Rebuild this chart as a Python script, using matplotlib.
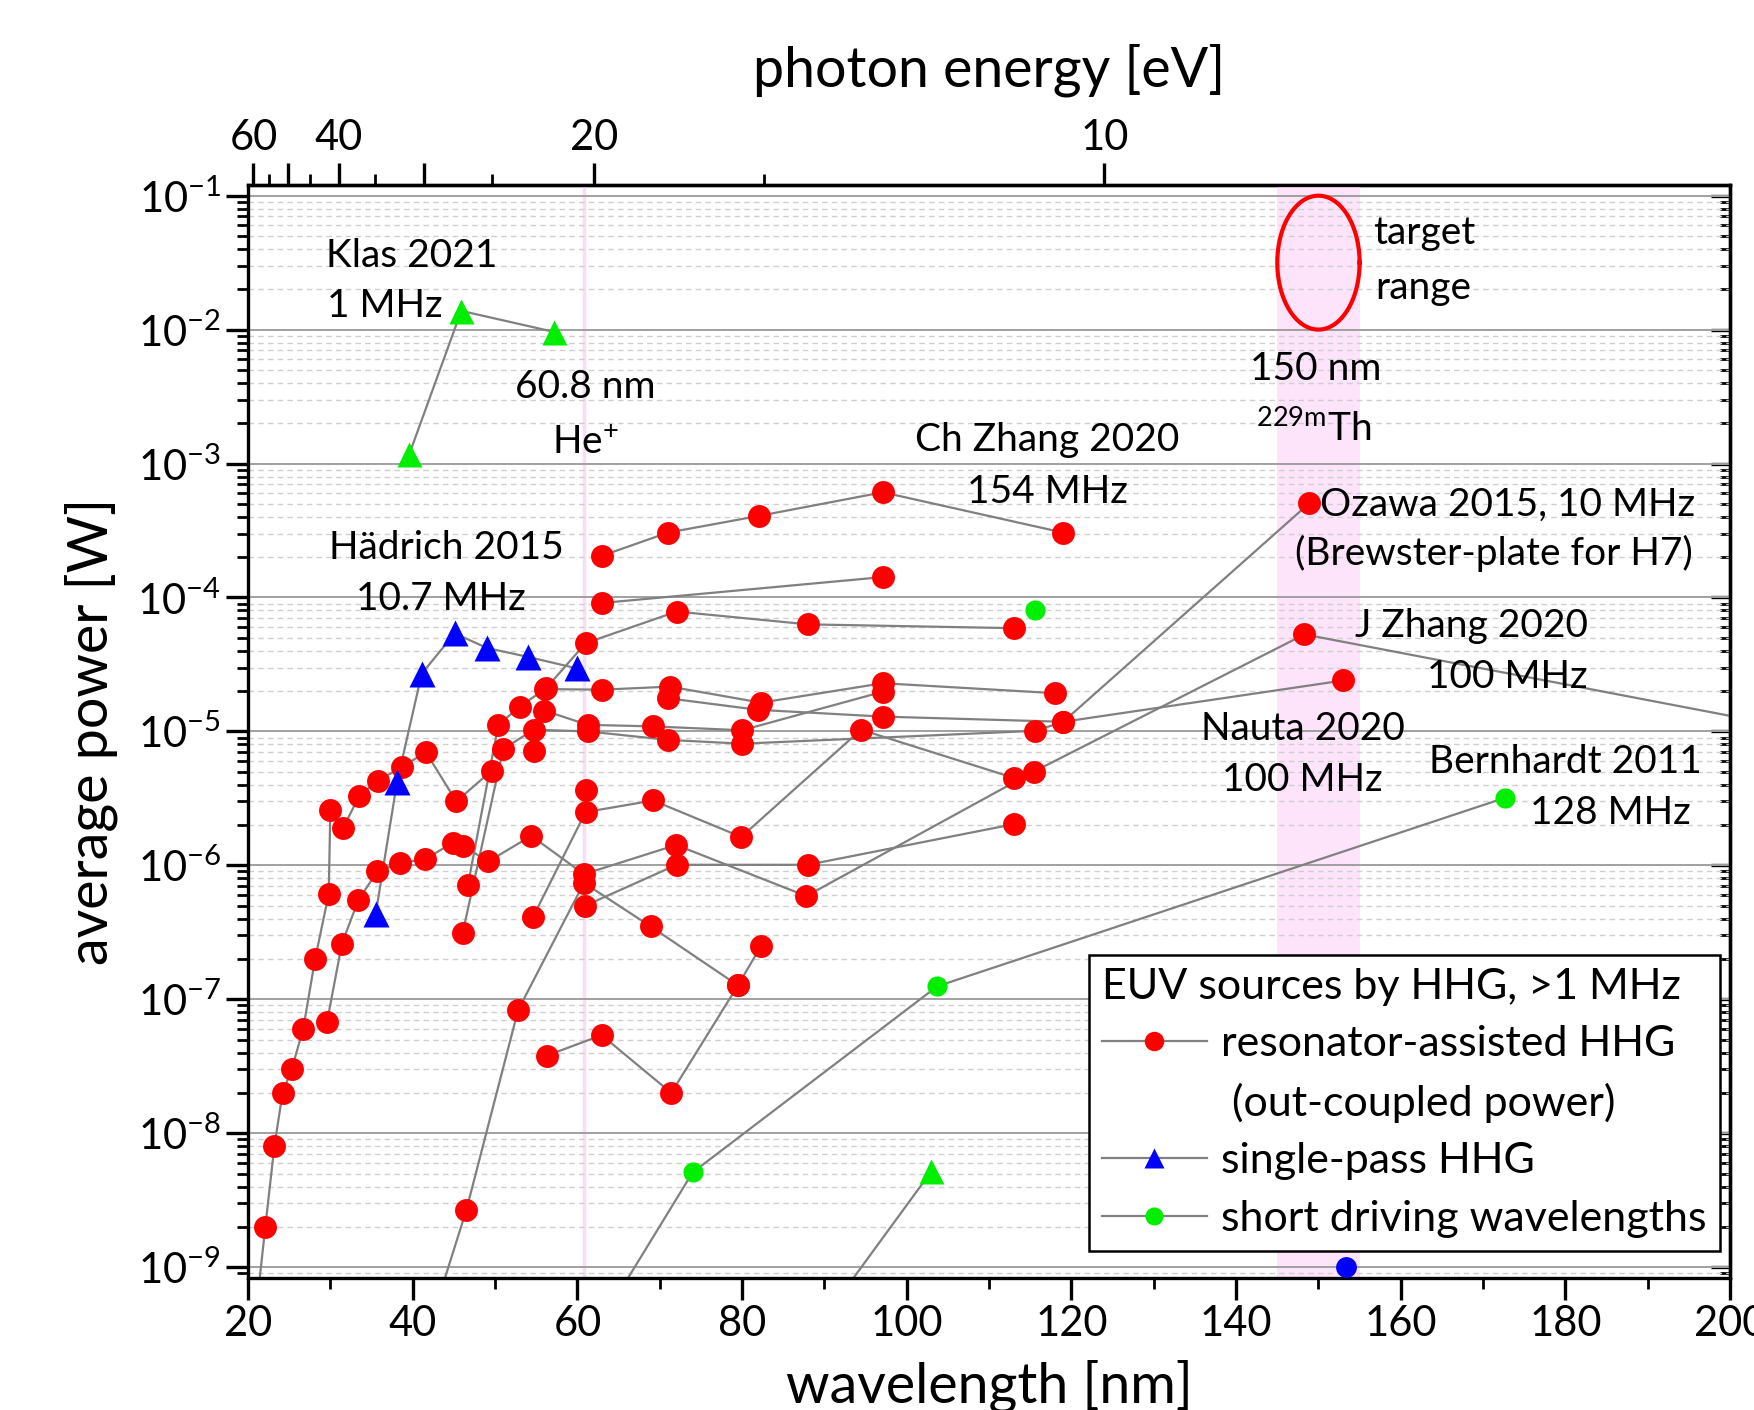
import numpy as np
import matplotlib
matplotlib.use('Agg')
import matplotlib.pyplot as plt
from matplotlib.lines import Line2D
from matplotlib.ticker import LogLocator, MultipleLocator, FixedLocator, NullFormatter

plt.rcParams['font.family'] = ['Lato', 'DejaVu Sans']
plt.rcParams['mathtext.fontset'] = 'custom'
plt.rcParams['mathtext.rm'] = 'Lato'
plt.rcParams['mathtext.it'] = 'Lato:italic'
plt.rcParams['mathtext.bf'] = 'Lato:bold'

HC = 1239.84  # eV nm

# --- resonator-assisted HHG (out-coupled power): wavelength [nm], power [W]
# points below 1e-9 W / beyond 200 nm only give the direction of the line
res_a_wl = [19.8, 22.1, 23.2, 24.2, 25.3, 26.7, 28.15, 29.8, 30.0, 31.55, 33.5, 35.8, 38.65, 41.6, 45.3, 49.6]
res_a_pw = [1e-10, 2.0e-9, 8.0e-9, 2.0e-8, 3.0e-8, 6.0e-8, 2.0e-7, 6.1e-7, 2.6e-6, 1.9e-6, 3.3e-6, 4.3e-6, 5.4e-6, 7.0e-6, 3.0e-6, 5.1e-6]

jzhang_wl = [29.6, 31.4, 33.4, 35.7, 38.4, 41.5, 44.9, 46.05, 49.2, 54.4, 60.8, 72.0, 87.8, 115.4, 148.3, 215.0]
jzhang_pw = [6.8e-8, 2.6e-7, 5.5e-7, 9.0e-7, 1.04e-6, 1.11e-6, 1.48e-6, 1.40e-6, 1.07e-6, 1.66e-6, 8.6e-7, 1.42e-6, 5.9e-7, 5.0e-6, 5.3e-5, 8.7e-6]

res_c_wl = [39.2, 46.5, 52.8, 60.8, 68.9, 79.5]
res_c_pw = [1e-10, 2.65e-9, 8.3e-8, 7.4e-7, 3.5e-7, 1.27e-7]

res_d_wl = [56.3, 62.95, 71.4, 79.5, 82.3]
res_d_pw = [3.8e-8, 5.4e-8, 2.0e-8, 1.27e-7, 2.5e-7]

nauta_wl = [46.05, 51.0, 54.7, 61.25, 70.95, 80.0, 115.6, 119.0, 153.0]
nauta_pw = [3.1e-7, 7.4e-6, 1.03e-5, 1.0e-5, 8.65e-6, 8.1e-6, 1.01e-5, 1.18e-5, 2.4e-5]

res_f_wl = [54.6, 61.0, 69.2, 79.9, 94.45, 113.0]
res_f_pw = [4.1e-7, 2.5e-6, 3.05e-6, 1.63e-6, 1.03e-5, 4.5e-6]

res_g_wl = [60.95, 72.05, 88.0, 113.0]
res_g_pw = [5.0e-7, 1.01e-6, 1.01e-6, 2.03e-6]

res_h_wl = [46.7, 50.4, 53.0, 56.2, 61.0, 72.05, 88.0, 113.0]
res_h_pw = [7.1e-7, 1.12e-5, 1.53e-5, 2.1e-5, 4.56e-5, 7.85e-5, 6.3e-5, 5.9e-5]

res_k_wl = [54.7, 56.1, 63.0, 71.25, 82.3, 97.1, 118.0]
res_k_pw = [7.1e-6, 2.07e-5, 2.05e-5, 2.16e-5, 1.64e-5, 2.29e-5, 1.93e-5]

res_m_wl = [56.0, 61.25, 69.2, 80.0, 97.1]
res_m_pw = [1.43e-5, 1.12e-5, 1.09e-5, 1.02e-5, 1.98e-5]

ozawa_wl = [70.95, 81.9, 97.1, 119.0, 148.9]
ozawa_pw = [1.77e-5, 1.45e-5, 1.29e-5, 1.18e-5, 5.06e-4]

chzhang_wl = [63.0, 71.0, 82.0, 97.1, 119.0]
chzhang_pw = [2.05e-4, 3.05e-4, 4.06e-4, 6.1e-4, 3.05e-4]

res_p_wl = [63.0, 97.1]
res_p_pw = [9.1e-5, 1.42e-4]

res_single_wl = [61.0]
res_single_pw = [3.67e-6]

# --- single-pass HHG
klas_wl = [39.6, 45.9, 57.2]
klas_pw = [1.18e-3, 1.38e-2, 9.6e-3]
hadrich_wl = [35.5, 38.1, 41.1, 45.1, 49.0, 54.0, 60.0]
hadrich_pw = [4.3e-7, 4.2e-6, 2.7e-5, 5.4e-5, 4.2e-5, 3.6e-5, 2.95e-5]
sp_dot_wl = [153.4]
sp_dot_pw = [1.0e-9]

# --- short driving wavelengths
bernhardt_wl = [57.0, 74.0, 103.7, 172.7]
bernhardt_pw = [1e-10, 5.1e-9, 1.25e-7, 3.2e-6]
short_tri_wl = [82.6, 103.0]
short_tri_pw = [1e-10, 5.2e-9]
short_dot_wl = [115.6]
short_dot_pw = [8.1e-5]

LINE = '#808080'
RED = '#ff0000'
BLUE = '#0000ff'
GREEN = '#00ee00'
LW = 1.6

fig = plt.figure(figsize=(17.54, 14.10), dpi=100)
ax = fig.add_axes([0.1414, 0.0936, 0.845, 0.7755])

# highlighted regions
ax.axvspan(145, 155, color='#fde4fb', lw=0, zorder=0.2)
ax.axvline(60.8, color='#f8dcf8', lw=2.5, zorder=0.3)

res_series = [
    (res_a_wl, res_a_pw), (jzhang_wl, jzhang_pw), (res_c_wl, res_c_pw),
    (res_d_wl, res_d_pw), (nauta_wl, nauta_pw), (res_f_wl, res_f_pw),
    (res_g_wl, res_g_pw), (res_h_wl, res_h_pw), (res_k_wl, res_k_pw),
    (res_m_wl, res_m_pw), (ozawa_wl, ozawa_pw), (chzhang_wl, chzhang_pw),
    (res_p_wl, res_p_pw), (res_single_wl, res_single_pw),
]
for wl, pw in res_series:
    ax.plot(wl, pw, '-', color=LINE, lw=LW, zorder=2)
for wl, pw in res_series:
    ax.plot(wl, pw, 'o', color=RED, ms=16.5, mec='none', zorder=4)

for wl, pw in [(klas_wl, klas_pw), (short_tri_wl, short_tri_pw)]:
    ax.plot(wl, pw, '-', color=LINE, lw=LW, zorder=2)
    ax.plot(wl, pw, '^', color=GREEN, ms=18, mec='none', zorder=4)

ax.plot(hadrich_wl, hadrich_pw, '-', color=LINE, lw=LW, zorder=2)
ax.plot(hadrich_wl, hadrich_pw, '^', color=BLUE, ms=19, mec='none', zorder=4)
ax.plot(sp_dot_wl, sp_dot_pw, 'o', color=BLUE, ms=15, mec='none', zorder=4)

ax.plot(bernhardt_wl, bernhardt_pw, '-', color=LINE, lw=LW, zorder=2)
ax.plot(bernhardt_wl, bernhardt_pw, 'o', color=GREEN, ms=14.5, mec='none', zorder=4)
ax.plot(short_dot_wl, short_dot_pw, 'o', color=GREEN, ms=14.5, mec='none', zorder=4)

# target range ellipse (drawn in log space)
t = np.linspace(0, 2 * np.pi, 300)
ax.plot(150 + 5 * np.cos(t), 10 ** (-1.5 + 0.5 * np.sin(t)), color=RED, lw=3, zorder=3)

ax.set_yscale('log')
ax.set_xlim(20, 200)
ax.set_ylim(8.3e-10, 0.121)

ax.xaxis.set_major_locator(MultipleLocator(20))
ax.xaxis.set_minor_locator(MultipleLocator(10))
ax.yaxis.set_major_locator(LogLocator(base=10, numticks=20))
ax.yaxis.set_minor_locator(LogLocator(base=10, subs=np.arange(2, 10), numticks=20))
ax.yaxis.set_minor_formatter(NullFormatter())

ax.set_axisbelow(True)
ax.yaxis.grid(True, which='major', color='#a0a0a0', lw=1.4, ls='-')
ax.yaxis.grid(True, which='minor', color='#cfcfcf', lw=1.0, ls=(0, (4, 3)))

for s in ax.spines.values():
    s.set_linewidth(2.4)
ax.tick_params(axis='both', which='major', labelsize=30, width=2.4, length=16, direction='out')
ax.tick_params(axis='both', which='minor', width=2.0, length=8, direction='out')
ax.tick_params(axis='x', top=False)
ax.tick_params(axis='y', right=False)

# right axis: inward ticks, no labels
secy = ax.secondary_yaxis('right', functions=(lambda y: y, lambda y: y))
secy.yaxis.set_major_locator(LogLocator(base=10, numticks=20))
secy.yaxis.set_minor_locator(LogLocator(base=10, subs=np.arange(2, 10), numticks=20))
secy.yaxis.set_minor_formatter(NullFormatter())
secy.tick_params(which='major', direction='in', length=14, width=2.4, labelright=False)
secy.tick_params(which='minor', direction='in', length=7, width=2.0, labelright=False)
secy.spines['right'].set_linewidth(2.4)


def wl2ev(x):
    x = np.asarray(x, dtype=float)
    with np.errstate(divide='ignore', invalid='ignore'):
        return HC / x


secx = ax.secondary_xaxis('top', functions=(wl2ev, wl2ev))
secx.set_xticks([60, 50, 40, 30, 20, 10], labels=['60', '', '40', '', '20', '10'])
secx.xaxis.set_minor_locator(FixedLocator([55, 45, 35, 25, 15]))
secx.tick_params(which='major', direction='out', length=16, width=2.4, labelsize=30)
secx.tick_params(which='minor', direction='out', length=8, width=2.0)
secx.spines['top'].set_linewidth(2.4)
secx.set_xlabel('photon energy [eV]', fontsize=40, labelpad=24)

ax.set_xlabel('wavelength [nm]', fontsize=40, labelpad=12)
ax.set_ylabel('average power [W]', fontsize=40, labelpad=14)

# annotations
fs = 28
ax.text(29.45, 0.0354, 'Klas 2021', fontsize=fs, ha='left', va='center')
ax.text(29.55, 0.0149, '1 MHz', fontsize=fs, ha='left', va='center')
ax.text(61.0, 3.73e-3, '60.8 nm', fontsize=fs, ha='center', va='center')
ax.text(61.0, 1.43e-3, 'He$^{+}$', fontsize=fs, ha='center', va='center')
ax.text(117.1, 1.51e-3, 'Ch Zhang 2020', fontsize=fs, ha='center', va='center')
ax.text(117.1, 6.12e-4, '154 MHz', fontsize=fs, ha='center', va='center')
ax.text(44.1, 2.34e-4, 'Hädrich 2015', fontsize=fs, ha='center', va='center')
ax.text(43.4, 9.66e-5, '10.7 MHz', fontsize=fs, ha='center', va='center')
ax.text(195.7, 4.96e-4, 'Ozawa 2015, 10 MHz', fontsize=fs, ha='right', va='center')
ax.text(195.5, 2.13e-4, '(Brewster-plate for H7)', fontsize=fs, ha='right', va='center')
ax.text(182.7, 6.1e-5, 'J Zhang 2020', fontsize=fs, ha='right', va='center')
ax.text(182.7, 2.57e-5, '100 MHz', fontsize=fs, ha='right', va='center')
ax.text(148.1, 1.04e-5, 'Nauta 2020', fontsize=fs, ha='center', va='center')
ax.text(148.0, 4.37e-6, '100 MHz', fontsize=fs, ha='center', va='center')
ax.text(196.6, 5.96e-6, 'Bernhardt 2011', fontsize=fs, ha='right', va='center')
ax.text(195.2, 2.45e-6, '128 MHz', fontsize=fs, ha='right', va='center')
ax.text(156.6, 0.053, 'target', fontsize=fs, ha='left', va='center')
ax.text(156.9, 0.0203, 'range', fontsize=fs, ha='left', va='center')
ax.text(149.7, 5.08e-3, '150 nm', fontsize=fs, ha='center', va='center')
ax.text(149.4, 1.83e-3, '$^{229\\mathrm{m}}$Th', fontsize=fs, ha='center', va='center')

handles = [
    Line2D([], [], color=LINE, lw=LW, marker='o', ms=14, mfc=RED, mec='none'),
    Line2D([], [], color='none'),
    Line2D([], [], color=LINE, lw=LW, marker='^', ms=15, mfc=BLUE, mec='none'),
    Line2D([], [], color=LINE, lw=LW, marker='o', ms=13, mfc=GREEN, mec='none'),
]
labels = ['resonator-assisted HHG', ' (out-coupled power)', 'single-pass HHG', 'short driving wavelengths']
leg = ax.legend(handles, labels, title='EUV sources by HHG, >1 MHz', loc='lower right',
                bbox_to_anchor=(0.993, 0.025), fontsize=31, title_fontsize=31,
                frameon=True, fancybox=False, edgecolor='black', framealpha=1,
                handlelength=2.45, borderaxespad=0, alignment='left',
                labelspacing=0.45, handletextpad=0.33, borderpad=0.3)
leg.get_frame().set_linewidth(1.8)
leg.set_zorder(6)

fig.savefig('out.png', dpi=100)
